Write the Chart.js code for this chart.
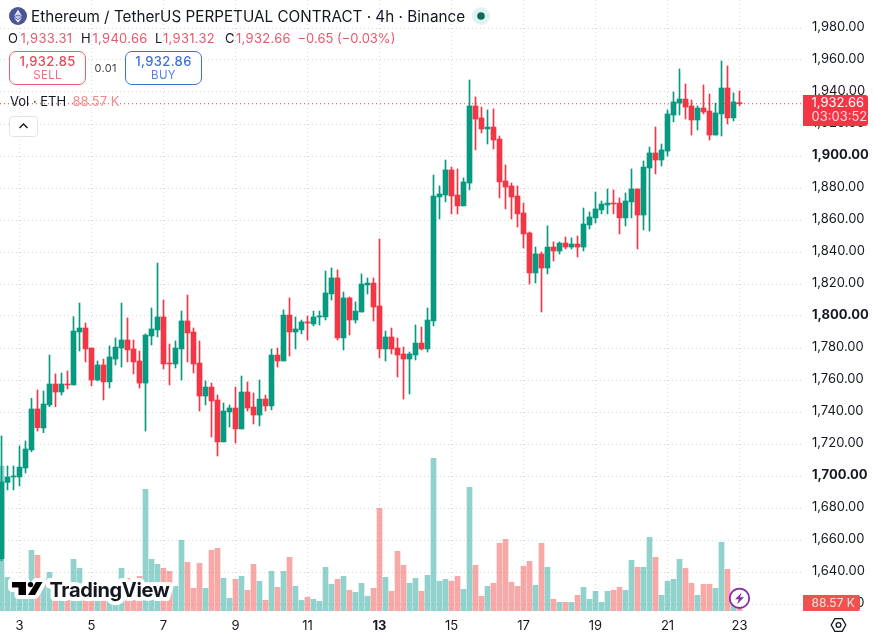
<!DOCTYPE html>
<html>
<head>
<meta charset="utf-8">
<title>ETHUSDT 4h</title>
<script src="https://cdn.jsdelivr.net/npm/chart.js@4/dist/chart.umd.min.js"></script>
<style>
  html,body{margin:0;padding:0;background:#fff;overflow:hidden}
  body{width:874px;height:639px;position:relative;font-family:Inter,sans-serif;color:#131722}
  canvas{position:absolute;left:0;top:0}
  .t{position:absolute;white-space:nowrap;line-height:1}
  .red{color:#e8596c}
  .box{position:absolute;box-sizing:border-box;top:51px;height:34px;width:77px;border:1.2px solid;border-radius:7px;background:#fff}
  .box div{position:absolute;left:0;right:0;text-align:center;line-height:1}
  .box .p{top:3px;font-size:13px;font-weight:500;letter-spacing:.35px}
  .box .s{top:18px;font-size:11.5px;letter-spacing:.3px}
</style>
</head>
<body>
<canvas id="c" width="874" height="639"></canvas>

<svg style="position:absolute;left:9px;top:7px" width="18" height="18" viewBox="0 0 18 18">
  <circle cx="9" cy="9" r="9" fill="#4a5593"/>
  <path d="M9 2.5 L13 9.2 L9 7.4 L5 9.2 Z" fill="#dfe3f3"/>
  <path d="M9 8.2 L13 10 L9 12.2 L5 10 Z" fill="#b9c1e6"/>
  <path d="M5 10.8 L9 13.1 L13 10.8 L9 15.8 Z" fill="#eef0fa"/>
</svg>
<div class="t" id="title" style="left:31px;top:9px;font-size:15.25px">Ethereum / TetherUS PERPETUAL CONTRACT · 4h · Binance</div>
<svg style="position:absolute;left:472px;top:7px" width="18" height="18"><circle cx="9" cy="9" r="9" fill="#e0f3ef"/><circle cx="9" cy="9" r="3.8" fill="#0b6b55"/></svg>

<div class="t" style="left:8px;top:32px;font-size:13px">O</div><div class="t red" id="vo" style="left:20.5px;top:32px;font-size:13px;letter-spacing:.3px"></div>
<div class="t" style="left:81px;top:32px;font-size:13px">H</div><div class="t red" id="vh" style="left:92.5px;top:32px;font-size:13px;letter-spacing:.3px"></div>
<div class="t" style="left:155px;top:32px;font-size:13px">L</div><div class="t red" id="vl" style="left:163px;top:32px;font-size:13px;letter-spacing:.3px"></div>
<div class="t" style="left:225px;top:32px;font-size:13px">C</div><div class="t red" id="vc" style="left:236px;top:32px;font-size:13px;letter-spacing:.3px"></div>
<div class="t red" id="vd" style="left:297.5px;top:32px;font-size:13px"></div>

<div class="box" style="left:9px;border-color:#e4606f;color:#e8485a"><div class="p" id="sell"></div><div class="s" style="color:#ec6f7c">SELL</div></div>
<div class="t" id="qty" style="left:94.5px;top:63px;font-size:11px;color:#444;letter-spacing:.3px">0.01</div>
<div class="box" style="left:125px;border-color:#3f70d8;color:#3f70d8"><div class="p" id="buy"></div><div class="s" style="color:#5480df">BUY</div></div>

<div class="t" style="left:10px;top:95px;font-size:13px">Vol · ETH</div>
<div class="t" id="vv" style="left:72.5px;top:95px;font-size:13px;color:#ef8a8f"></div>

<div style="position:absolute;box-sizing:border-box;left:9px;top:116px;width:29px;height:21px;border:1px solid #e0e3e8;border-radius:4px;background:#fff"></div>
<svg style="position:absolute;left:18px;top:122px" width="11" height="8"><path d="M1.5 6 L5.5 2 L9.5 6" fill="none" stroke="#131722" stroke-width="1.4"/></svg>

<script>
// 4h candles for ETHUSDT, oldest first
const opens = [
  1648.3,1696.0,1699.4,1699.4,1705.0,1716.3,1741.9,1730.0,1744.4,1757.5,
  1752.5,1757.5,1756.9,1790.0,1792.5,1780.0,1760.0,1769.4,1758.8,1773.1,
  1780.0,1785.0,1779.4,1771.9,1758.1,1787.5,1791.3,1799.4,1770.6,1770.0,
  1779.4,1796.9,1790.0,1770.6,1750.0,1755.6,1747.5,1721.3,1740.0,1742.5,
  1729.4,1752.5,1743.1,1738.1,1748.1,1743.8,1775.6,1771.9,1800.6,1790.0,
  1791.3,1796.3,1795.0,1799.4,1799.4,1813.8,1823.8,1786.3,1811.3,1797.5,
  1802.5,1819.4,1820.6,1806.3,1779.4,1786.9,1780.0,1776.3,1773.1,1775.6,
  1783.1,1779.4,1796.9,1874.4,1875.6,1891.3,1875.6,1868.8,1883.1,1931.3,
  1923.8,1916.9,1918.1,1910.6,1884.4,1881.3,1875.0,1864.4,1851.9,1826.9,
  1838.8,1830.0,1843.1,1840.6,1845.6,1843.1,1845.0,1843.1,1856.9,1861.3,
  1866.3,1869.4,1870.6,1870.6,1861.3,1871.3,1879.4,1863.1,1892.5,1901.9,
  1897.5,1903.1,1925.6,1933.1,1935.6,1931.3,1922.5,1930.0,1928.1,1913.1,
  1926.3,1942.5,1923.8,1933.31
];
const highs = [
  1725.0,1706.3,1706.3,1718.8,1721.9,1748.6,1753.8,1753.1,1775.6,1763.8,
  1764.4,1765.6,1799.6,1808.1,1795.6,1780.0,1771.9,1773.1,1781.3,1786.3,
  1808.1,1798.8,1785.0,1778.1,1788.8,1805.0,1833.1,1810.0,1782.5,1784.4,
  1803.1,1813.1,1792.5,1784.4,1759.4,1758.1,1750.6,1745.6,1744.4,1755.6,
  1762.5,1758.8,1751.9,1760.0,1750.6,1779.4,1780.0,1803.8,1811.3,1799.4,
  1797.5,1800.0,1803.1,1803.1,1828.1,1830.0,1828.8,1815.0,1811.9,1808.8,
  1826.3,1823.8,1823.8,1848.1,1790.6,1792.5,1786.3,1780.6,1777.5,1794.4,
  1793.1,1805.0,1888.1,1881.3,1897.5,1893.1,1891.9,1886.3,1947.5,1936.9,
  1930.6,1928.8,1929.4,1912.5,1894.4,1883.1,1881.3,1870.6,1852.5,1843.1,
  1840.0,1856.3,1846.3,1846.3,1849.4,1848.8,1850.0,1867.5,1865.0,1877.5,
  1871.9,1879.4,1878.8,1873.8,1876.9,1891.9,1879.4,1896.9,1905.6,1918.1,
  1907.5,1928.8,1940.0,1954.4,1945.0,1935.0,1931.3,1944.4,1938.8,1933.1,
  1959.4,1956.3,1939.4,1940.66
];
const lows = [
  1647.0,1691.3,1691.3,1693.8,1701.9,1715.2,1728.1,1727.1,1743.3,1743.3,
  1750.6,1754.4,1756.9,1778.1,1771.3,1756.3,1759.4,1747.5,1755.0,1769.4,
  1768.1,1771.3,1763.8,1755.0,1728.1,1781.9,1786.9,1766.9,1756.9,1767.5,
  1760.0,1771.3,1764.4,1740.6,1744.4,1724.4,1712.5,1721.3,1730.6,1720.6,
  1729.4,1740.6,1732.5,1731.3,1740.6,1741.3,1768.1,1771.9,1775.0,1779.4,
  1788.8,1785.0,1793.8,1794.4,1797.5,1810.0,1785.0,1778.8,1788.1,1795.6,
  1802.5,1813.8,1796.9,1773.8,1771.9,1776.3,1761.9,1748.1,1751.3,1772.5,
  1778.8,1777.5,1793.8,1860.6,1871.3,1863.8,1863.8,1868.8,1878.8,1903.8,
  1914.4,1907.5,1904.4,1873.8,1866.9,1860.6,1855.6,1842.5,1820.0,1820.6,
  1802.5,1826.3,1834.4,1838.8,1841.9,1841.9,1836.9,1840.6,1854.4,1858.1,
  1863.8,1863.8,1863.8,1851.3,1856.3,1861.3,1841.9,1853.8,1853.1,1888.8,
  1893.8,1900.0,1921.3,1925.6,1923.1,1913.1,1916.3,1926.3,1910.0,1913.1,
  1912.5,1920.0,1921.9,1931.32
];
const closes = [
  1696.3,1699.4,1700.0,1705.6,1716.9,1741.9,1730.2,1745.0,1757.5,1752.5,
  1757.5,1756.9,1790.6,1792.5,1779.4,1760.0,1769.4,1758.8,1774.4,1780.6,
  1785.0,1778.8,1771.3,1758.1,1788.1,1791.9,1799.4,1770.0,1770.0,1780.0,
  1796.9,1789.4,1770.0,1750.0,1755.6,1746.9,1721.3,1740.6,1742.5,1729.4,
  1752.5,1742.5,1738.1,1748.1,1743.8,1775.6,1771.9,1800.6,1790.0,1791.9,
  1796.3,1795.6,1799.4,1800.0,1814.4,1823.8,1786.3,1811.3,1797.5,1803.1,
  1820.0,1820.6,1805.6,1779.4,1786.9,1779.4,1775.6,1773.1,1776.3,1783.1,
  1779.4,1797.5,1875.0,1876.3,1891.3,1875.0,1868.8,1883.8,1931.3,1923.1,
  1916.9,1918.1,1910.0,1883.8,1880.6,1874.4,1863.8,1851.3,1826.9,1838.8,
  1830.0,1843.1,1840.6,1845.6,1843.1,1845.0,1843.1,1857.5,1861.9,1866.9,
  1870.0,1870.6,1870.0,1861.3,1871.9,1879.4,1863.1,1893.1,1901.9,1897.5,
  1903.8,1926.3,1933.8,1935.6,1930.6,1922.5,1930.0,1927.5,1913.1,1926.9,
  1942.5,1923.8,1933.8,1932.66
];
// Traded volume per candle, in thousands of ETH
const volumes = [
  1605,373,207,362,266,672,617,354,428,155,
  144,155,572,473,166,155,155,155,155,155,
  473,362,221,384,1347,572,517,473,439,273,
  783,539,251,528,251,672,694,362,141,351,
  384,229,517,329,118,439,262,439,594,273,
  118,152,130,107,484,296,351,384,229,207,
  307,163,251,1137,373,218,661,506,307,362,
  218,395,1690,329,351,329,384,240,1369,506,
  163,273,307,749,794,318,273,495,550,285,
  749,484,130,96,96,96,174,262,130,218,
  96,218,229,262,229,561,484,484,816,594,
  174,329,351,572,473,307,174,296,296,251,
  761,462,111,88.57
];
const dayTicks = [3,5,7,9,11,13,15,17,19,21,23];
const priceTicks = [1620,1640,1660,1680,1700,1720,1740,1760,1780,1800,1820,1840,1860,1880,1900,1920,1940,1960,1980];
const sellPrice = 1932.85, buyPrice = 1932.86, tradeSize = '0.01', countdown = '03:03:52';

const UP = '#089981', DOWN = '#f23645';
const UP_VOL = 'rgba(38,166,154,0.5)', DOWN_VOL = 'rgba(239,83,80,0.5)';
const AREA_W = 803, AREA_H = 611;
const last = closes.length - 1;
const money = v => v.toLocaleString('en-US', {minimumFractionDigits:2, maximumFractionDigits:2});
const isUp = i => closes[i] >= opens[i];
const idx = closes.map((_, i) => i);

// Header read-outs come from the newest candle
const change = closes[last] - opens[last];
const pct = change / opens[last] * 100;
document.getElementById('vo').textContent = money(opens[last]);
document.getElementById('vh').textContent = money(highs[last]);
document.getElementById('vl').textContent = money(lows[last]);
document.getElementById('vc').textContent = money(closes[last]);
document.getElementById('vd').textContent = '\u2212' + Math.abs(change).toFixed(2) + ' (\u2212' + Math.abs(pct).toFixed(2) + '%)';
document.getElementById('sell').textContent = money(sellPrice);
document.getElementById('buy').textContent = money(buyPrice);
document.getElementById('vv').textContent = volumes[last].toFixed(2) + ' K';

function rrect(c, x, y, w, h, r) {
  c.beginPath();
  c.roundRect(x, y, w, h, r);
}

// Price and volume tags, watermark and small icons sit above the axes
const overlay = {
  id: 'overlay',
  afterDraw(chart) {
    const c = chart.ctx, yP = chart.scales.y, yV = chart.scales.vol;
    c.save();

    // watermark
    c.lineJoin = 'round';
    c.font = '700 20px Inter, sans-serif';
    c.letterSpacing = '-0.35px';
    c.textBaseline = 'alphabetic';
    c.textAlign = 'left';
    c.strokeStyle = '#fff'; c.lineWidth = 8;
    c.strokeText('TradingView', 49.5, 597);
    const logo = () => {
      c.beginPath();
      c.moveTo(12,582); c.lineTo(26,582); c.lineTo(26,595); c.lineTo(18.5,595); c.lineTo(18.5,587.5); c.lineTo(12,587.5); c.closePath();
      c.moveTo(36,582); c.lineTo(42.5,582); c.lineTo(35,595); c.lineTo(28,595); c.closePath();
    };
    logo(); c.stroke();
    c.fillStyle = '#000';
    logo(); c.fill();
    c.beginPath(); c.arc(30.5, 584.6, 2.7, 0, Math.PI*2); c.fill();
    c.fillStyle = '#131722';
    c.fillText('TradingView', 49.5, 597);
    c.letterSpacing = '0px';

    // flash badge on the newest bar
    c.beginPath(); c.arc(739.5, 598.3, 9.7, 0, Math.PI*2);
    c.fillStyle = '#fff'; c.fill();
    c.strokeStyle = '#8031a7'; c.lineWidth = 1.8; c.stroke();
    c.fillStyle = '#8031a7';
    c.beginPath();
    c.moveTo(741.8,592.5); c.lineTo(735,599.3); c.lineTo(738.8,599.3); c.lineTo(737,604.2); c.lineTo(744,597.3); c.lineTo(740,597.3); c.closePath();
    c.fill();

    // last price tag
    const py = yP.getPixelForValue(closes[last]);
    c.fillStyle = '#f23645';
    rrect(c, 803, Math.round(py) - 9, 65, 31, [0,3,3,0]); c.fill();
    c.textBaseline = 'middle';
    c.textAlign = 'left';
    c.font = '13px Inter, sans-serif';
    c.fillStyle = '#fff';
    c.fillText(money(closes[last]), 811.5, Math.round(py) - 0.5);
    c.fillStyle = '#ffd9dd';
    c.fillText(countdown, 811.5, Math.round(py) + 13.5);

    // last volume tag
    const vy = yV.getPixelForValue(volumes[last]);
    c.fillStyle = '#ef5350';
    rrect(c, 803, 595, 57, 16, [0,2,2,0]); c.fill();
    c.font = '12px Inter, sans-serif';
    c.fillStyle = '#ffe3e3';
    c.fillText(volumes[last].toFixed(2) + ' K', 811.5, vy + 0.3);

    // settings hexagon
    c.strokeStyle = '#131722'; c.lineWidth = 1.3;
    c.beginPath();
    const hx = 838.5, hy = 625, hr = 7.3;
    for (let k = 0; k < 6; k++) {
      const a = Math.PI/3*k;
      const px = hx + hr*Math.cos(a), qy = hy + hr*Math.sin(a);
      k ? c.lineTo(px, qy) : c.moveTo(px, qy);
    }
    c.closePath(); c.stroke();
    c.beginPath(); c.arc(hx, hy, 2.4, 0, Math.PI*2); c.stroke();
    c.restore();
  }
};

new Chart(document.getElementById('c'), {
  type: 'bar',
  data: {
    datasets: [
      {
        label: 'Volume', yAxisID: 'vol', order: 5, grouped: false, barThickness: 5,
        data: idx.map(i => ({x: i, y: volumes[i]})),
        backgroundColor: idx.map(i => isUp(i) ? UP_VOL : DOWN_VOL)
      },
      {
        label: 'Wick', yAxisID: 'y', order: 3, grouped: false, barThickness: 1,
        data: idx.map(i => ({x: i, y: [lows[i], highs[i]]})),
        backgroundColor: idx.map(i => isUp(i) ? UP : DOWN),
        borderSkipped: false
      },
      {
        label: 'Body', yAxisID: 'y', order: 2, grouped: false, barThickness: 5, minBarLength: 1,
        data: idx.map(i => ({x: i, y: [opens[i], closes[i]]})),
        backgroundColor: idx.map(i => isUp(i) ? UP : DOWN),
        borderSkipped: false
      },
      {
        type: 'line', label: 'Last', yAxisID: 'y', order: 1,
        data: [{x: -0.25, y: closes[last]}, {x: -0.25 + AREA_W/6, y: closes[last]}],
        borderColor: '#f23645', borderWidth: 1, borderDash: [1, 3], pointRadius: 0
      }
    ]
  },
  options: {
    responsive: false,
    animation: false,
    events: [],
    layout: {padding: 0},
    plugins: {legend: {display: false}, tooltip: {enabled: false}},
    scales: {
      x: {
        type: 'linear',
        offset: false,
        min: -0.25,
        max: -0.25 + AREA_W/6,
        afterBuildTicks: s => { s.ticks = dayTicks.map(d => ({value: (d - 3)*6 + 3})); },
        afterFit: s => { s.height = 639 - AREA_H; s.paddingLeft = 0; s.paddingRight = 0; },
        grid: {offset: false, color: '#d6d8dc', drawTicks: false},
        border: {display: false, dash: [1, 3]},
        ticks: {
          autoSkip: false, maxRotation: 0, padding: 7, color: '#131722',
          callback: v => String((v - 3)/6 + 3),
          font: ctx => ({family: 'Inter, sans-serif', size: 13, weight: ctx.tick && ctx.tick.value === 63 ? '700' : '400'})
        }
      },
      y: {
        position: 'right',
        min: 1800 - (AREA_H - 316)/1.6,
        max: 1800 + 316/1.6,
        afterBuildTicks: s => { s.ticks = priceTicks.map(v => ({value: v})); },
        afterFit: s => { s.width = 874 - AREA_W; s.paddingTop = 0; s.paddingBottom = 0; },
        grid: {color: '#d6d8dc', drawTicks: false},
        border: {display: false, dash: [1, 3]},
        ticks: {
          padding: 9, labelOffset: -1, color: '#131722',
          callback: v => money(v),
          font: ctx => ({family: 'Inter, sans-serif', size: 13, weight: ctx.tick && ctx.tick.value % 100 === 0 ? '700' : '400'})
        }
      },
      vol: {display: false, min: 0, max: AREA_H * 88.57 / 8}
    }
  },
  plugins: [overlay]
});
</script>
</body>
</html>
